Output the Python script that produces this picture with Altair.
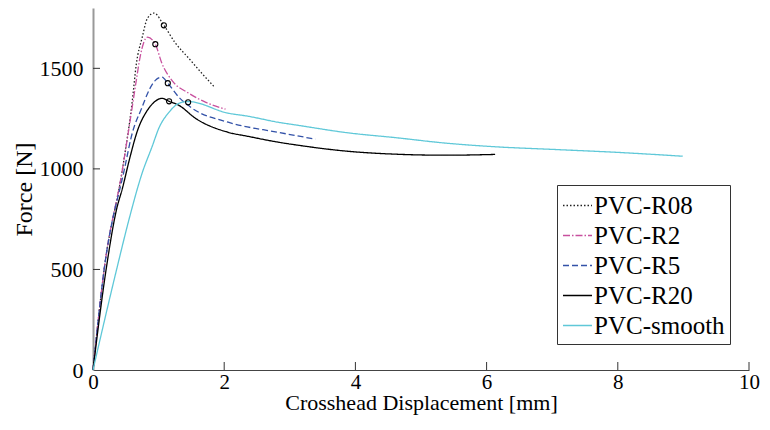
import altair as alt
import pandas as pd

series_names = ["PVC-R08", "PVC-R2", "PVC-R5", "PVC-R20", "PVC-smooth"]
series_colors = ["#222222", "#C8509E", "#3352A8", "#000000", "#5FC8D8"]
series_dashes = [[1.5, 2], [7, 2, 1.5, 2], [6, 3], [1, 0], [1, 0]]
series_widths = [1.3, 1.3, 1.6, 1.8, 1.5]

r08_x = [0, 0.17, 0.45, 0.60, 0.66, 0.75, 0.83, 0.93, 1.08, 1.26, 1.46, 1.66, 1.84]
r08_y = [0, 500, 1000, 1341, 1520, 1654, 1749, 1775, 1714, 1624, 1550, 1475, 1411]

r2_x = [0, 0.17, 0.45, 0.58, 0.66, 0.72, 0.77, 0.83, 0.95, 1.05, 1.20, 1.46, 1.72, 2.02]
r2_y = [0, 500, 1000, 1270, 1440, 1560, 1625, 1655, 1620, 1525, 1441, 1376, 1331, 1297]

r5_x = [0, 0.17, 0.48, 0.60, 0.74, 0.86, 0.95, 1.05, 1.14, 1.31, 1.51, 2.06, 2.82, 3.39]
r5_y = [0, 500, 1000, 1180, 1300, 1395, 1440, 1456, 1426, 1356, 1302, 1232, 1182, 1148]

r20_x = [0, 0.20, 0.36, 0.45, 0.55, 0.68, 0.83, 0.93, 1.05, 1.16, 1.31, 1.56, 2.06, 2.36, 2.82, 3.12, 3.87, 4.62, 5.38, 6.13]
r20_y = [0, 500, 800, 905, 1040, 1192, 1292, 1331, 1351, 1336, 1316, 1252, 1182, 1162, 1133, 1118, 1088, 1073, 1068, 1072]

smooth_x = [0, 0.36, 0.55, 0.75, 0.90, 1.01, 1.16, 1.31, 1.45, 2.06, 2.36, 2.82, 3.12, 3.87, 4.62, 5.38, 6.13, 7.00, 8.00, 8.99]
smooth_y = [0, 500, 750, 980, 1110, 1207, 1282, 1326, 1335, 1277, 1262, 1232, 1217, 1180, 1155, 1128, 1110, 1097, 1082, 1063]

marker_x = [1.08, 0.95, 1.14, 1.16, 1.45]
marker_y = [1714, 1620, 1426, 1336, 1331]

x_tick_values = [0, 2, 4, 6, 8, 10]
y_tick_values = [0, 500, 1000, 1500]
x_inner_ticks = [2, 4, 6, 8, 10]
y_inner_ticks = [500, 1000, 1500]

all_x = [r08_x, r2_x, r5_x, r20_x, smooth_x]
all_y = [r08_y, r2_y, r5_y, r20_y, smooth_y]
rows = []
for name, xs, ys in zip(series_names, all_x, all_y):
    for i, (xv, yv) in enumerate(zip(xs, ys)):
        rows.append({"series": name, "x": xv, "y": yv, "i": i})
df = pd.DataFrame(rows)
markers = pd.DataFrame({"series": series_names, "x": marker_x, "y": marker_y})
xt = pd.DataFrame({"x": x_inner_ticks})
yt = pd.DataFrame({"y": y_inner_ticks})

FONT = "Liberation Serif"
xscale = alt.Scale(domain=[0, 10], nice=False, zero=False)
yscale = alt.Scale(domain=[0, 1800], nice=False, zero=False)

common = dict(labelFont=FONT, titleFont=FONT, labelColor="black", titleColor="black",
              titleFontWeight="normal", ticks=False, grid=False, labelFlush=False, format="d")
xaxis = alt.Axis(values=x_tick_values, title="Crosshead Displacement [mm]",
                 domainColor="#444", domainWidth=1, labelFontSize=21, titleFontSize=22,
                 labelPadding=1, titlePadding=0, **common)
yaxis = alt.Axis(values=y_tick_values, title="Force [N]",
                 domainColor="#999", domainWidth=2, labelFontSize=22, titleFontSize=24,
                 labelPadding=10, titlePadding=3, **common)

X = alt.X("x:Q", scale=xscale, axis=xaxis)
Y = alt.Y("y:Q", scale=yscale, axis=yaxis)

legend = alt.Legend(orient="none", legendX=464, legendY=177,
                    symbolType="stroke", symbolSize=841, symbolStrokeWidth=1.5,
                    labelFont=FONT, labelFontSize=25, labelColor="black",
                    labelOffset=1, rowPadding=1, padding=5,
                    strokeColor="#333", fillColor="white")

lines = alt.Chart(df).mark_line(interpolate="monotone").encode(
    x=X, y=Y,
    color=alt.Color("series:N", scale=alt.Scale(domain=series_names, range=series_colors),
                    title=None, legend=legend),
    strokeDash=alt.StrokeDash("series:N", scale=alt.Scale(domain=series_names, range=series_dashes),
                              title=None, legend=legend),
    strokeWidth=alt.StrokeWidth("series:N", scale=alt.Scale(domain=series_names, range=series_widths),
                                legend=None),
    order="i:Q",
)

pts = alt.Chart(markers).mark_point(shape="circle", filled=False, color="black",
                                     size=26, strokeWidth=1.1, opacity=1).encode(x=X, y=Y)

xticks = alt.Chart(xt).mark_rule(color="#333", strokeWidth=1).encode(
    x=X, y=alt.value(362), y2=alt.value(354),
)
yticks = alt.Chart(yt).mark_rule(color="#333", strokeWidth=1).encode(
    y=Y, x=alt.value(0), x2=alt.value(7),
)

chart = alt.layer(lines, pts, xticks, yticks).properties(
    width=656, height=362,
    autosize=alt.AutoSizeParams(type="none"),
    padding={"left": 85, "top": 0, "right": 13, "bottom": 46},
).configure(
    font=FONT,
    style={"guide-label": {"font": FONT, "fill": "black"},
           "guide-title": {"font": FONT, "fill": "black", "fontWeight": "normal"}},
).configure_view(stroke=None).configure_axis(
    labelFont=FONT, titleFont=FONT,
).configure_legend(
    labelFont=FONT,
)

chart.save("out.html", embed_options={"renderer": "svg", "actions": False})
